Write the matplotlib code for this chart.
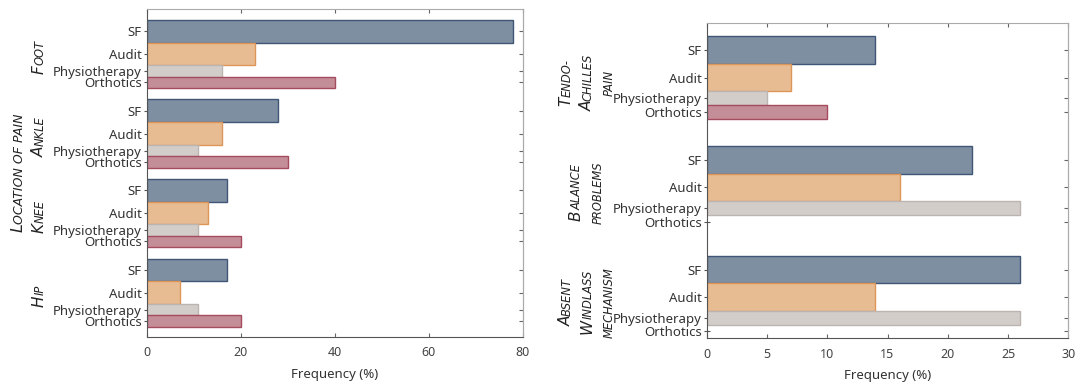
"""
Frequency of findings by location of pain / clinical sign, four methods.
"""

import matplotlib
matplotlib.use('Agg')
import matplotlib.pyplot as plt
from matplotlib.transforms import IdentityTransform


series = ['SF', 'Audit', 'Physiotherapy', 'Orthotics']

left_groups = [['Foot'], ['Ankle'], ['Knee'], ['Hip']]
left_sf = [78, 28, 17, 17]
left_audit = [23, 16, 13, 7]
left_physio = [16, 11, 11, 11]
left_orth = [40, 30, 20, 20]
left_xticks = [0, 20, 40, 60, 80]

right_groups = [['Tendo-', 'Achilles', 'pain'],
                ['Balance', 'problems'],
                ['Absent', 'Windlass', 'mechanism']]
right_sf = [14, 22, 26]
right_audit = [7, 16, 14]
right_physio = [5, 26, 26]
right_orth = [10, 0, 0]
right_xticks = [0, 5, 10, 15, 20, 25, 30]

fills = ['#7f8fa2', '#e7bc93', '#d3cdca', '#c38e98']
edges = ['#3f5676', '#de9558', '#bcb4b0', '#a54b5e']
thick = [2, 2, 1, 1]

FONT = ['Noto Sans', 'DejaVu Sans']
LABFONT = ['DejaVu Sans']
plt.rcParams['font.family'] = FONT
W, H = 1080, 385


#==============================================================================
# helpers
#==============================================================================
def text_width(fig, s, size):
    r = fig.canvas.get_renderer()
    t = fig.text(0, 0, s, fontsize=size, style='italic', family=LABFONT)
    w = t.get_window_extent(r).width
    t.remove()
    return w


def smallcaps(fig, xc, yc, word, big, small):
    # word drawn rotated, first letter large if it is a capital
    if word[0].isupper():
        segs = [(word[0], big), (word[1:].upper(), small)]
    else:
        segs = [(word.upper(), small)]
    widths = [text_width(fig, s, sz) for s, sz in segs]
    total = sum(widths)
    xb = xc + 0.729 * big * 100 / 72 / 2
    y = yc - total / 2
    for (s, sz), w in zip(segs, widths):
        fig.text(xb, y, s, fontsize=sz, style='italic', family=LABFONT,
                 rotation=90, rotation_mode='anchor', ha='left',
                 va='baseline', color='#222222',
                 transform=IdentityTransform())
        y += w


def panel(ax, values, step, top, bottom, xmax, xticks):
    ng = len(values[0])
    ticks = []
    labels = []
    centers = []
    for g in range(ng):
        y = g * step
        start = y
        for k in range(len(series)):
            v = values[k][g]
            if v > 0:
                ax.barh(y, v, height=thick[k], align='edge', color=fills[k],
                        edgecolor=edges[k], linewidth=1.0, zorder=2)
            ticks.append(y + thick[k] / 2)
            labels.append(series[k])
            y += thick[k]
        centers.append((start + y) / 2)
    span = sum(thick)
    ax.set_ylim((ng - 1) * step + span + bottom, -top)
    ax.set_xlim(0, xmax)
    ax.set_axisbelow(True)
    ax.set_yticks(ticks)
    ax.set_yticklabels(labels)
    ax.set_xticks(xticks)
    ax.tick_params(axis='y', direction='inout', length=5, width=0.8,
                   color='#555555', labelsize=9.5, labelcolor='#333333', pad=1)
    ax.tick_params(axis='x', direction='in', length=3, width=0.8, top=True,
                   color='#666666', labelsize=9, labelcolor='#444444', pad=7)
    sec = ax.secondary_yaxis('right')
    sec.set_yticks(ticks)
    sec.set_yticklabels([])
    sec.tick_params(direction='in', length=3, width=0.8, color='#666666')
    sec.spines['right'].set_color('#aaaaaa')
    for side in ['left', 'bottom']:
        ax.spines[side].set_color('#555555')
    for side in ['top', 'right']:
        ax.spines[side].set_color('#aaaaaa')
    ax.set_xlabel('Frequency (%)', fontsize=9.5, color='#333333', labelpad=6)
    return centers


#==============================================================================
# figure
#==============================================================================
fig = plt.figure(figsize=(W / 100, H / 100), dpi=100)
axL = fig.add_axes([146.7 / W, 1 - 336.5 / H, 376.0 / W, 327.5 / H])
axR = fig.add_axes([706.7 / W, 1 - 338.3 / H, 361.6 / W, 315.6 / H])

cL = panel(axL, [left_sf, left_audit, left_physio, left_orth],
           7, 0.96, 0.86, 80, left_xticks)
cR = panel(axR, [right_sf, right_audit, right_physio, right_orth],
           8, 1.0, 0.0, 30, right_xticks)

for c, words in zip(cL, left_groups):
    yc = axL.transData.transform((0, c))[1] - 3
    smallcaps(fig, 38, yc, words[0], 11, 8.3)

ymid = axL.transAxes.transform((0, 0.5))[1]
smallcaps(fig, 17, ymid, 'Location of pain', 11.5, 9)

for c, words in zip(cR, right_groups):
    yc = axR.transData.transform((0, c))[1] - 5
    n = len(words)
    x0 = 586 - (n - 1) * 21 / 2
    for i, w in enumerate(words):
        smallcaps(fig, x0 + i * 21, yc, w, 11, 8.3)

fig.savefig('out.png', dpi=100)
